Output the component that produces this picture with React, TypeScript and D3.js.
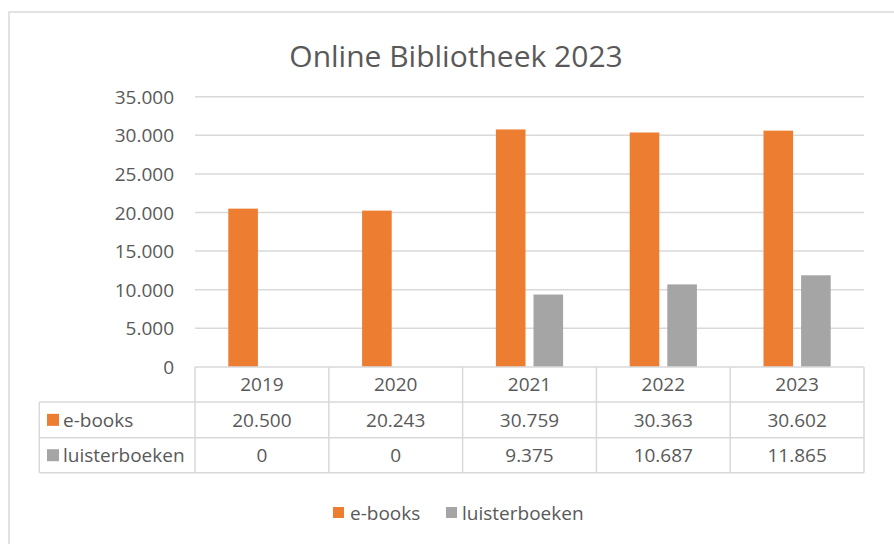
import React from "react";
import * as d3 from "d3";

const categories = ["2019", "2020", "2021", "2022", "2023"];
const seriesNames = ["e-books", "luisterboeken"];
const ebooks = [20500, 20243, 30759, 30363, 30602];
const luisterboeken = [0, 0, 9375, 10687, 11865];
const yTicks = [0, 5000, 10000, 15000, 20000, 25000, 30000, 35000];
const colors = ["#ED7D31", "#A5A5A5"];

const fmt = (v: number) => (v === 0 ? "0" : d3.format(",")(v).replace(/,/g, "."));

export default function App() {
  const W = 894, H = 544;
  const left = 195, right = 864, top = 96.7, bottom = 366.9;
  const x = d3.scaleBand().domain(categories).range([left, right]).paddingInner(0).paddingOuter(0);
  const y = d3.scaleLinear().domain([0, 35000]).range([bottom, top]);
  const bw = 29.6, gap = 8;
  const series = [ebooks, luisterboeken];
  const rowTop = [366.9, 402, 437.7];
  const rowBot = 472.7;
  const tableLeft = 39.3;
  const font = "'Open Sans', Lato, sans-serif";
  const textColor = "#595959";
  const line = "#d9d9d9";
  const fs = 19;
  return (
    <svg width={W} height={H} style={{ position: "absolute", left: 0, top: 0 }} fontFamily={font}>
      <rect x={0} y={0} width={W} height={H} fill="#fff" />
      <rect x={9} y={12} width={W + 20} height={H + 20} fill="#fff" stroke={line} strokeWidth={1.5} />
      <text x={456} y={67} textAnchor="middle" fontSize={30} fill={textColor}>
        Online Bibliotheek 2023
      </text>
      {yTicks.map((t) => (
        <g key={t}>
          {t > 0 && <line x1={left} x2={right} y1={y(t)} y2={y(t)} stroke={line} strokeWidth={1.5} />}
          <text x={174} y={y(t) + 7} textAnchor="end" fontSize={fs} fill={textColor}>
            {fmt(t)}
          </text>
        </g>
      ))}
      {categories.map((c, i) => {
        const cx = (x(c) as number) + x.bandwidth() / 2;
        return (
          <g key={c}>
            {series.map((s, j) => {
              const bx = j === 0 ? cx - gap / 2 - bw : cx + gap / 2;
              return (
                <rect key={j} x={bx} y={y(s[i])} width={bw} height={bottom - y(s[i])} fill={colors[j]} />
              );
            })}
          </g>
        );
      })}
      {/* table */}
      <line x1={left} x2={right} y1={rowTop[0]} y2={rowTop[0]} stroke={line} strokeWidth={1.5} />
      <line x1={tableLeft} x2={right} y1={rowTop[1]} y2={rowTop[1]} stroke={line} strokeWidth={1.5} />
      <line x1={tableLeft} x2={right} y1={rowTop[2]} y2={rowTop[2]} stroke={line} strokeWidth={1.5} />
      <line x1={tableLeft} x2={right} y1={rowBot} y2={rowBot} stroke={line} strokeWidth={1.5} />
      <line x1={tableLeft} x2={tableLeft} y1={rowTop[1]} y2={rowBot} stroke={line} strokeWidth={1.5} />
      {categories.map((c) => (
        <line key={c} x1={x(c)} x2={x(c)} y1={rowTop[0]} y2={rowBot} stroke={line} strokeWidth={1.5} />
      ))}
      <line x1={right} x2={right} y1={rowTop[0]} y2={rowBot} stroke={line} strokeWidth={1.5} />
      {categories.map((c) => {
        const cx = (x(c) as number) + x.bandwidth() / 2;
        return (
          <text key={c} x={cx} y={(rowTop[0] + rowTop[1]) / 2 + 7} textAnchor="middle" fontSize={fs} fill={textColor}>
            {c}
          </text>
        );
      })}
      {series.map((s, j) => {
        const rt = rowTop[j + 1];
        const rb = j === 0 ? rowTop[2] : rowBot;
        const cy = (rt + rb) / 2;
        return (
          <g key={j}>
            <rect x={47} y={cy - 6} width={12} height={12} fill={colors[j]} />
            <text x={63} y={cy + 7} fontSize={fs} fill={textColor}>
              {seriesNames[j]}
            </text>
            {categories.map((c, i) => {
              const cx = (x(c) as number) + x.bandwidth() / 2;
              return (
                <text key={c} x={cx} y={cy + 7} textAnchor="middle" fontSize={fs} fill={textColor}>
                  {fmt(s[i])}
                </text>
              );
            })}
          </g>
        );
      })}
      {/* legend */}
      <rect x={333} y={507} width={11} height={11} fill={colors[0]} />
      <text x={350} y={519.5} fontSize={fs} fill={textColor}>{seriesNames[0]}</text>
      <rect x={446} y={507} width={11} height={11} fill={colors[1]} />
      <text x={462} y={519.5} fontSize={fs} fill={textColor}>{seriesNames[1]}</text>
    </svg>
  );
}
